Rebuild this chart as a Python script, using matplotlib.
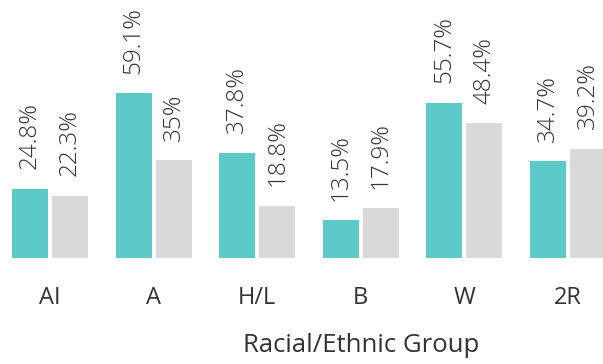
import matplotlib.pyplot as plt
import numpy as np

plt.rcParams['font.family'] = ['Open Sans', 'DejaVu Sans']

groups = ['AI', 'A', 'H/L', 'B', 'W', '2R']
teal_vals = [24.8, 59.1, 37.8, 13.5, 55.7, 34.7]
gray_vals = [22.3, 35, 18.8, 17.9, 48.4, 39.2]

teal = '#5ccac8'
gray = '#d9d9d9'
txt = '#333333'

fig = plt.figure(figsize=(6.03, 3.64), dpi=100)
ax = fig.add_axes([0, 106 / 364, 1, 258 / 364])

x = np.arange(len(groups))
w = 0.347
off = 0.193
b1 = ax.bar(x - off, teal_vals, w, color=teal)
b2 = ax.bar(x + off, gray_vals, w, color=gray)

# value labels, rotated, above each bar
for bars, vals in ((b1, teal_vals), (b2, gray_vals)):
    for r, v in zip(bars, vals):
        ax.annotate(f'{v:g}%', (r.get_x() + r.get_width() / 2, v),
                    xytext=(0, 14), textcoords='offset points',
                    rotation=90, ha='center', va='bottom',
                    fontsize=17.5, fontweight=300, color=txt)

ax.set_xlim(-0.483, 5.338)
ax.set_ylim(0, 92.5)
ax.set_xticks(x)
ax.set_xticklabels(groups, fontsize=17, color=txt)
ax.tick_params(axis='x', length=0, pad=20)
ax.set_yticks([])
ax.set_xlabel('Racial/Ethnic Group', fontsize=18.5, color=txt)
ax.xaxis.set_label_coords(361 / 603, -75 / 258)
for s in ax.spines.values():
    s.set_visible(False)

fig.savefig('out.png', dpi=100)
